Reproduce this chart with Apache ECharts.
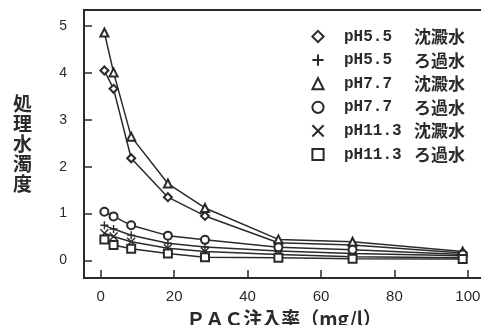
<!DOCTYPE html>
<html>
<head>
<meta charset="utf-8">
<script src="https://cdn.jsdelivr.net/npm/echarts@6/dist/echarts.min.js"></script>
<style>
html,body{margin:0;padding:0;background:#fff;}
#c{width:481px;height:325px;}
</style>
</head>
<body>
<div id="c"></div>
<script>
const doses = [1, 3.5, 8.3, 18.3, 28.4, 48.4, 68.6, 98.6];
const ph55Sed = [4.05, 3.66, 2.18, 1.35, 0.95, 0.38, 0.33, 0.16];
const ph55Fil = [0.75, 0.67, 0.54, 0.37, 0.29, 0.20, 0.15, 0.10];
const ph77Sed = [4.86, 4.01, 2.64, 1.64, 1.12, 0.45, 0.40, 0.19];
const ph77Fil = [1.04, 0.94, 0.75, 0.53, 0.44, 0.28, 0.23, 0.13];
const ph113Sed = [0.58, 0.51, 0.40, 0.26, 0.19, 0.13, 0.08, 0.06];
const ph113Fil = [0.45, 0.33, 0.25, 0.15, 0.07, 0.06, 0.04, 0.03];
const seriesNames = ['pH5.5 沈澱水', 'pH5.5 ろ過水', 'pH7.7 沈澱水', 'pH7.7 ろ過水', 'pH11.3 沈澱水', 'pH11.3 ろ過水'];
const xTicks = [0, 20, 40, 60, 80, 100];
const yTicks = [0, 1, 2, 3, 4, 5];

const symbols = ['emptyDiamond', 'path://M5,0L5,10M0,5L10,5', 'emptyTriangle', 'emptyCircle', 'path://M0,0L10,10M10,0L0,10', 'emptyRect'];
const allData = [ph55Sed, ph55Fil, ph77Sed, ph77Fil, ph113Sed, ph113Fil];
const ink = '#2a2a2a';
const G = {left: 84, top: 10, width: 400, height: 268};

const chart = echarts.init(document.getElementById('c'));
chart.setOption({
  animation: false,
  backgroundColor: '#fff',
  grid: {left: G.left, top: G.top, width: G.width, height: G.height, show: false, containLabel: false, outerBoundsMode: 'none'},
  graphic: [{
    type: 'polyline', silent: true, z: 10,
    shape: {points: [[G.left + G.width, G.top], [G.left, G.top], [G.left, G.top + G.height], [G.left + G.width, G.top + G.height]]},
    style: {stroke: ink, lineWidth: 2, fill: null}
  }],
  xAxis: {
    type: 'value', min: -4.55, max: 104.4, position: 'bottom',
    axisLine: {show: false, onZero: false},
    splitLine: {show: false},
    axisTick: {show: true, inside: true, length: 8, customValues: xTicks, lineStyle: {color: ink, width: 1.5}},
    axisLabel: {customValues: xTicks, margin: 11, color: ink, fontSize: 15, fontFamily: 'Liberation Sans'},
    name: 'ＰＡＣ注入率（mg/l）', nameLocation: 'middle', nameGap: 26,
    nameTextStyle: {fontSize: 19, fontWeight: 'bold', color: ink, fontFamily: 'Noto Sans CJK JP'}
  },
  yAxis: {
    type: 'value', min: -0.373, max: 5.34, position: 'left',
    axisLine: {show: false, onZero: false},
    splitLine: {show: false},
    axisTick: {show: true, inside: true, length: 8, customValues: yTicks, lineStyle: {color: ink, width: 1.5}},
    axisLabel: {customValues: yTicks, margin: 17, color: ink, fontSize: 14, fontFamily: 'Liberation Sans'},
    name: '処\n理\n水\n濁\n度', nameLocation: 'middle', nameGap: 52, nameRotate: 0,
    nameTextStyle: {fontSize: 19, lineHeight: 20, fontWeight: 'bold', color: ink, fontFamily: 'Noto Sans CJK JP', align: 'right', verticalAlign: 'middle', padding: [12, 0, 0, 0]}
  },
  legend: {
    orient: 'vertical', left: 305, top: 23,
    itemWidth: 14, itemHeight: 14, itemGap: 6.6,
    lineStyle: {opacity: 0},
    data: seriesNames,
    formatter: function (n) {
      const p = n.split(' ');
      return '{s|}{a|' + p[0] + '}{b|' + p[1] + '}';
    },
    textStyle: {
      color: ink,
      rich: {
        s: {width: 14},
        a: {width: 70, fontSize: 16, fontWeight: 'bold', fontFamily: 'Liberation Mono', color: ink, lineHeight: 19},
        b: {fontSize: 17, fontWeight: 'bold', fontFamily: 'Noto Sans CJK JP', color: ink, lineHeight: 19}
      }
    }
  },
  series: seriesNames.map(function (name, i) {
    return {
      name: name,
      type: 'line',
      data: doses.map(function (d, j) { return [d, allData[i][j]]; }),
      symbol: symbols[i],
      symbolSize: 8,
      showAllSymbol: true,
      color: ink,
      lineStyle: {color: ink, width: 1.5},
      itemStyle: {color: ink, borderColor: ink, borderWidth: 1.4}
    };
  })
});
</script>
</body>
</html>
